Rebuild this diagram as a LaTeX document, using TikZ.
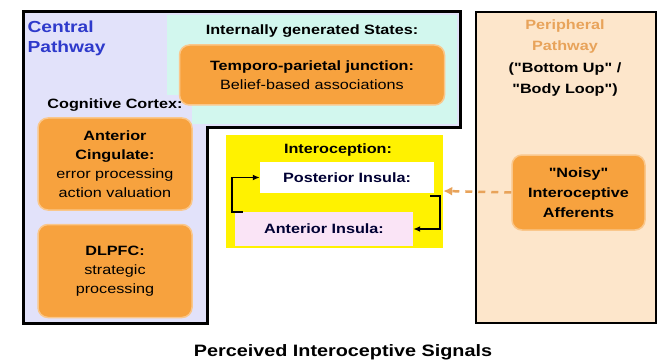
\documentclass[tikz,border=0pt]{standalone}
\usepackage{fontspec}
\setmainfont[FakeStretch=1.2, Ligatures=TeXOff]{Liberation Sans}
\usetikzlibrary{arrows.meta}
\definecolor{lavender}{HTML}{E2E2FA}
\definecolor{mint}{HTML}{D2F7EE}
\definecolor{boxorange}{HTML}{F7A23E}
\definecolor{peach}{HTML}{FDE6CB}
\definecolor{pathblue}{HTML}{2E3ACB}
\definecolor{periorange}{HTML}{E8A35A}
\definecolor{insulapink}{HTML}{FAE4F6}
\tikzset{
  txt/.style={font=\fontsize{13.5}{19}\selectfont, align=center},
  head/.style={font=\bfseries\fontsize{13.5}{19}\selectfont},
  region/.style={draw=boxorange!60, line width=1.5pt, fill=boxorange, rounded corners=10pt, txt},
  insula/.style={txt, font=\bfseries\fontsize{13.5}{19}\selectfont, text=black!80!blue},
  loopline/.style={line width=1.6pt, -{Latex[length=7pt,width=6pt]}}
}
\begin{document}
\begin{tikzpicture}[x=1pt,y=-1pt]
\useasboundingbox (0,0) rectangle (662,361);
\begin{scope}
\draw[line width=3pt, fill=lavender]
  (23,12) -- (460,12) -- (460,127) -- (207,127) -- (207,323) -- (23,323) -- cycle;
\fill[mint] (167,15) -- (457,15) -- (457,124) -- (192,124) -- (192,95) -- (167,95) -- cycle;
\node[anchor=north west, align=left, text=pathblue, font=\bfseries\fontsize{16}{20}\selectfont]
  (central) at (24,17) {Central\\Pathway};
\node[head] (states) at (312,31) {Internally generated States:};
\node[region, minimum width=265, minimum height=60] (tpj) at (312,75)
  {\textbf{Temporo-parietal junction:}\\Belief-based associations};
\node[head] (cortex) at (115,105) {Cognitive Cortex:};
\node[region, minimum width=154, minimum height=92] (acc) at (115,164)
  {\textbf{Anterior}\\\textbf{Cingulate:}\\error processing\\action valuation};
\node[region, minimum width=154, minimum height=93] (dlpfc) at (115,271)
  {\textbf{DLPFC:}\\strategic\\processing};
\end{scope}
\begin{scope}
\node[fill=yellow, minimum width=217, minimum height=113] (intero) at (334.5,191) {};
\node[head] (introtitle) at (338,150) {Interoception:};
\node[insula, fill=white, minimum width=174, minimum height=31] (pins) at (347,177.5) {Posterior Insula:};
\node[insula, fill=insulapink, minimum width=178, minimum height=34] (ains) at (324,229) {Anterior Insula:};
\draw[loopline] ([xshift=8pt]ains.north west) -- ++(-11,0) |- (pins.west);
\draw[loopline] ([xshift=-4pt,yshift=-3pt]pins.south east) -- ++(10,0) |- (ains.east);
\end{scope}
\begin{scope}
\node[draw, line width=2.5pt, fill=peach, minimum width=180, minimum height=311] (periph) at (566,167.5) {};
\node[txt, font=\bfseries\fontsize{13.5}{21.5}\selectfont] (periphtitle) at (565,58)
  {\textcolor{periorange}{Peripheral}\\\textcolor{periorange}{Pathway}\\("Bottom Up" /\\"Body Loop")};
\node[region, minimum width=133, minimum height=75, font=\bfseries\fontsize{13.5}{20}\selectfont] (noisy) at (578.5,192.5)
  {"Noisy"\\Interoceptive\\Afferents};
\draw[periorange, line width=2.5pt, dash pattern=on 7pt off 6pt, -{Latex[length=9pt,width=9pt]}] (noisy.west) -- (intero.east);
\end{scope}
\node[font=\bfseries\fontsize{16.5}{20}\selectfont] (signals) at (343,352) {Perceived Interoceptive Signals};
\end{tikzpicture}
\end{document}
